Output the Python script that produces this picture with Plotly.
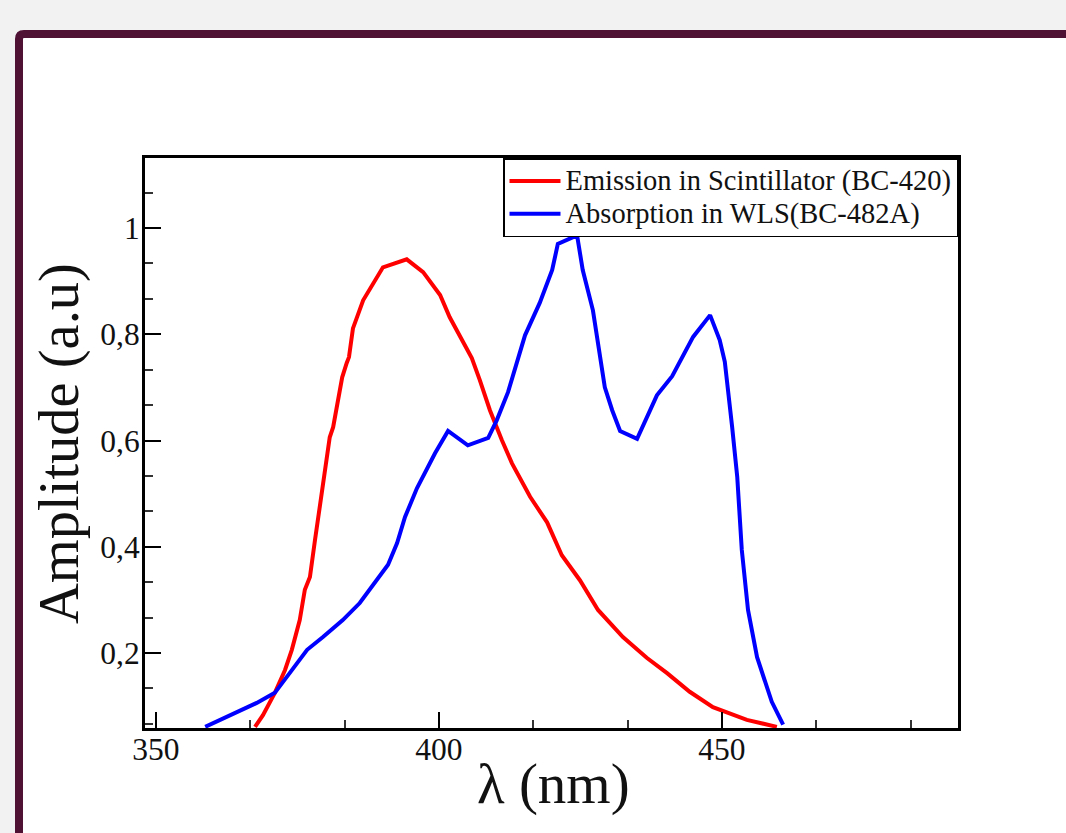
import plotly.graph_objects as go

# ---- data ----
emission_x = [367.5, 368.9, 371.0, 372.8, 374.0, 375.4, 376.3, 377.2, 378.1, 379.0,
              380.7, 381.3, 382.9, 383.7, 384.1, 384.8, 386.6, 390.1, 394.3, 397.2,
              400.2, 401.9, 403.7, 405.8, 407.2, 409.0, 411.1, 412.9, 416.1, 419.1,
              421.7, 424.9, 428.1, 432.5, 436.7, 440.3, 444.3, 448.4, 454.4, 459.7]
emission_y = [0.061, 0.083, 0.125, 0.168, 0.206, 0.262, 0.319, 0.343, 0.413, 0.482,
              0.606, 0.625, 0.719, 0.746, 0.757, 0.811, 0.864, 0.926, 0.941, 0.917,
              0.874, 0.832, 0.795, 0.755, 0.714, 0.657, 0.601, 0.557, 0.494, 0.446,
              0.384, 0.337, 0.281, 0.230, 0.191, 0.162, 0.127, 0.098, 0.074, 0.061]

absorption_x = [358.7, 363.1, 367.8, 371.0, 373.7, 376.7, 379.5, 383.0, 386.0, 391.0,
                392.6, 394.0, 396.1, 399.3, 401.6, 405.1, 408.7, 410.2, 412.2, 415.2,
                417.8, 420.0, 421.0, 424.4, 425.4, 427.2, 429.3, 430.6, 432.0, 435.0,
                438.5, 441.2, 444.9, 447.9, 449.6, 450.5, 451.8, 452.7, 453.5, 454.6,
                456.2, 458.8, 460.8]
absorption_y = [0.061, 0.083, 0.106, 0.125, 0.162, 0.206, 0.230, 0.262, 0.294, 0.366,
                0.407, 0.456, 0.510, 0.576, 0.618, 0.591, 0.605, 0.638, 0.691, 0.798,
                0.859, 0.921, 0.970, 0.986, 0.921, 0.845, 0.700, 0.657, 0.618, 0.603,
                0.685, 0.721, 0.795, 0.836, 0.789, 0.748, 0.625, 0.531, 0.394, 0.281,
                0.192, 0.108, 0.065]

series_names = ["Emission in Scintillator (BC-420)", "Absorption in WLS(BC-482A)"]
x_title = "λ (nm)"
y_title = "Amplitude (a.u)"

# ---- layout geometry ----
W, H = 1066, 833
L, R, T, B = 145, 958, 158, 728
FONT = "Liberation Serif, Times New Roman, serif"


def px2paper(px, py):
    return (px - L) / (R - L), (B - py) / (B - T)


# frame path (rounded top-left corner)
r = 5
x0, y0 = px2paper(19, 900)
x1, y1 = px2paper(19, 34 + r)
qx, qy = px2paper(19, 34)
x2, y2 = px2paper(19 + r, 34)
x3, y3 = px2paper(1100, 34)
x4, y4 = px2paper(1100, 900)
frame_path = (f"M {x0},{y0} L {x1},{y1} Q {qx},{qy} {x2},{y2} "
              f"L {x3},{y3} L {x4},{y4} Z")


def legend_label(s):
    return f'<span style="font-size:28.5px">{s}</span>'


fig = go.Figure()
fig.add_trace(go.Scatter(x=emission_x, y=emission_y, mode="lines",
                         name=legend_label(series_names[0]),
                         line=dict(color="#ff0000", width=4)))
fig.add_trace(go.Scatter(x=absorption_x, y=absorption_y, mode="lines",
                         name=legend_label(series_names[1]),
                         line=dict(color="#0000ff", width=4)))

axis_common = dict(showline=True, linecolor="black", linewidth=3, mirror=True,
                   showgrid=False, zeroline=False, ticks="inside",
                   tickcolor="black", tickwidth=2, ticklen=16,
                   tickfont=dict(family=FONT, size=31.5, color="#111"))

fig.update_xaxes(range=[348.06, 491.7], tick0=350, dtick=50,
                 ticklabelstandoff=-9,
                 minor=dict(ticks="inside", tick0=350, dtick=50 / 3, ticklen=8,
                            tickwidth=1.5, tickcolor="#333", showgrid=False),
                 **axis_common)
fig.update_yaxes(range=[0.0588, 1.1318], tick0=0, dtick=0.2,
                 ticklabelstandoff=-4,
                 minor=dict(ticks="inside", tick0=0, dtick=0.2 / 3, ticklen=8,
                            tickwidth=1.5, tickcolor="#333", showgrid=False),
                 **axis_common)

ax_x, ax_y = px2paper(553, 784)
ay_x, ay_y = px2paper(59, 444)

fig.update_layout(
    width=W, height=H,
    margin=dict(l=L, r=W - R, t=T, b=H - B, autoexpand=False),
    paper_bgcolor="#f2f2f2", plot_bgcolor="white",
    separators=",.",
    font=dict(family=FONT, color="#111"),
    showlegend=True,
    legend=dict(x=1, y=1, xanchor="right", yanchor="top",
                bgcolor="white", bordercolor="black", borderwidth=1.5,
                font=dict(family=FONT, size=23, color="#111"),
                tracegroupgap=0, itemwidth=51),
    shapes=[dict(type="path", xref="paper", yref="paper", path=frame_path,
                 fillcolor="white", line=dict(color="#4f1235", width=8),
                 layer="below")],
    annotations=[
        dict(text=x_title, xref="paper", yref="paper", x=ax_x, y=ax_y,
             xanchor="center", yanchor="middle", showarrow=False,
             font=dict(family=FONT, size=57, color="#111")),
        dict(text=y_title, xref="paper", yref="paper", x=ay_x, y=ay_y,
             xanchor="center", yanchor="middle", showarrow=False, textangle=-90,
             font=dict(family=FONT, size=56.5, color="#111")),
    ],
)

fig.write_html("out.html",
               config={"displayModeBar": False},
               post_script="document.body.style.margin='0px';"
                           "document.body.style.padding='0px';"
                           "document.body.style.overflow='hidden';")
